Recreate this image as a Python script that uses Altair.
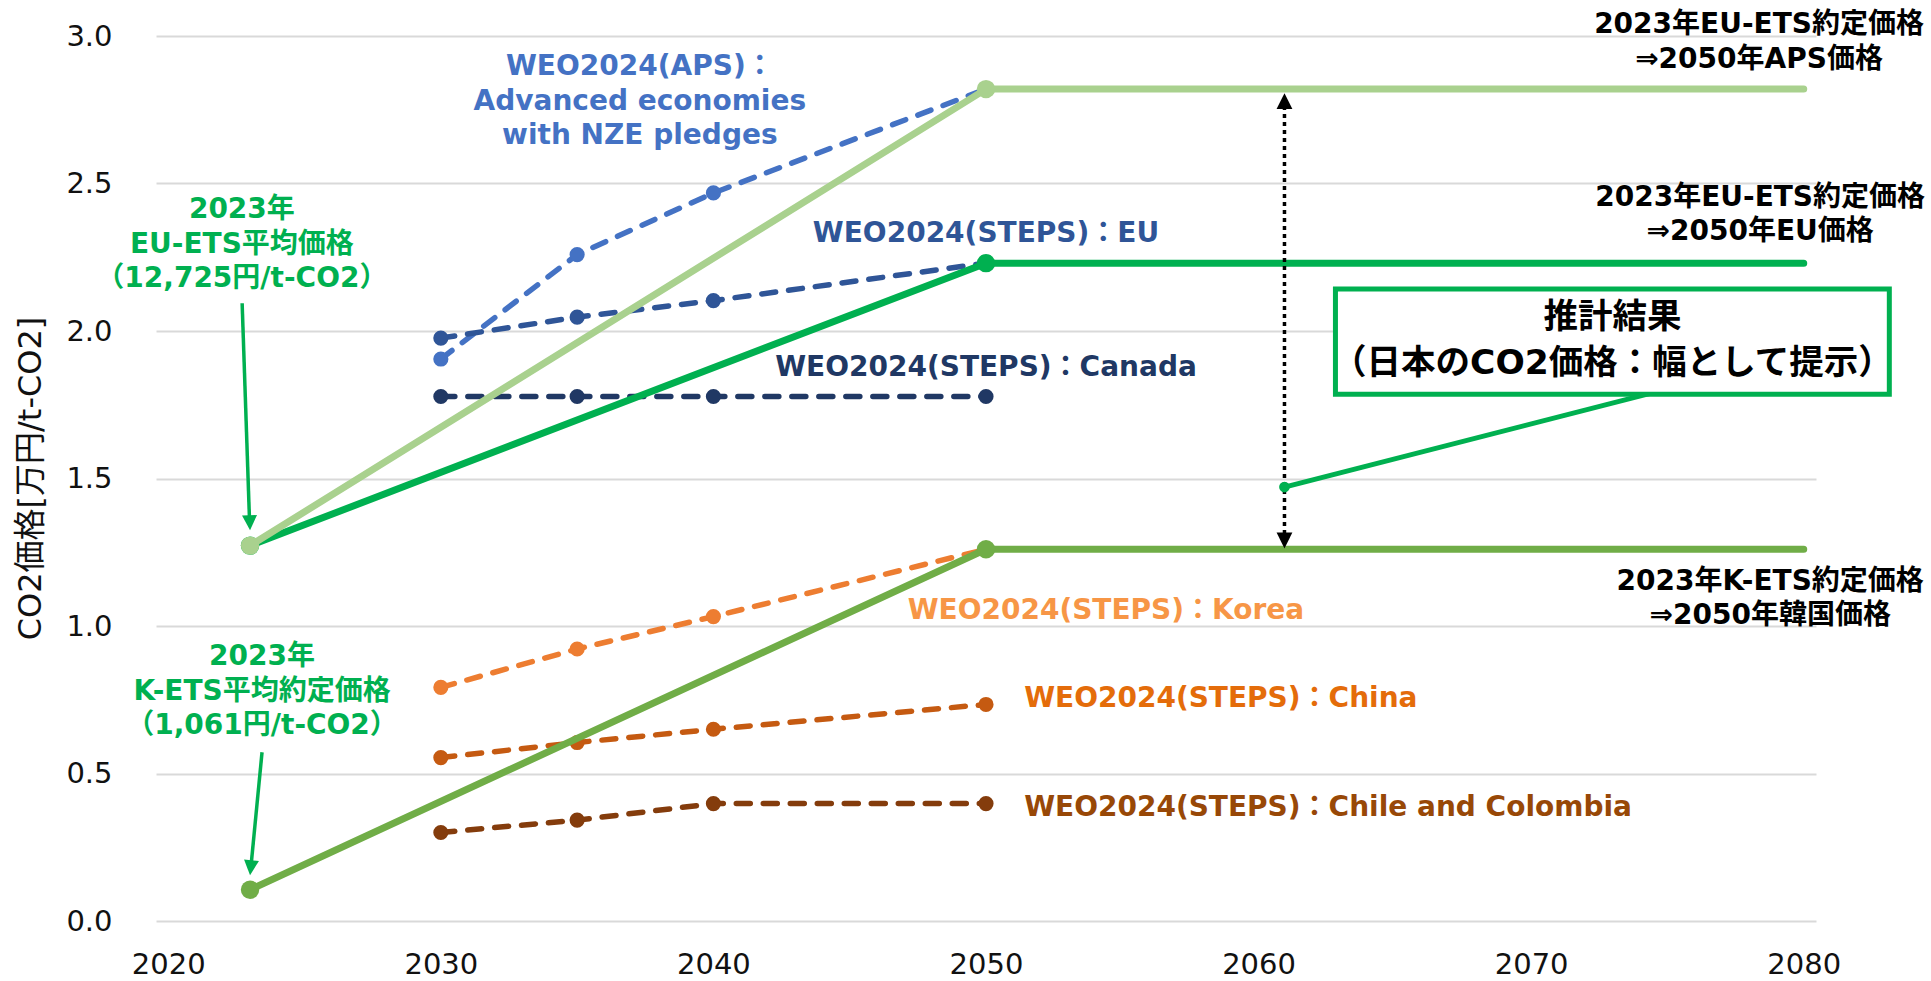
import altair as alt
import pandas as pd

FONT = "DejaVu Sans, Noto Sans CJK JP"

# ---- WEO2024 projections (万円/t-CO2) ----
weo_years = [2030, 2035, 2040, 2050]
weo_aps_adv = [1.905, 2.259, 2.468, 2.82]
weo_steps_eu = [1.976, 2.047, 2.103, 2.23]
weo_steps_canada = [1.778, 1.778, 1.778, 1.778]
weo_steps_korea = [0.792, 0.922, 1.032, 1.26]
weo_steps_china = [0.554, 0.605, 0.650, 0.734]
weo_steps_chile_col = [0.300, 0.342, 0.398, 0.398]

weo_names = ["APS", "EU", "Canada", "Korea", "China", "Chile"]
weo_values = [weo_aps_adv, weo_steps_eu, weo_steps_canada,
              weo_steps_korea, weo_steps_china, weo_steps_chile_col]
weo_colors = ["#4472C4", "#2F5597", "#203864", "#ED7D31", "#C55A11", "#843C0C"]

# ---- estimated Japanese CO2 price paths ----
scen_years = [2023, 2050, 2080]
scen_kets = [0.1061, 1.26, 1.26]
scen_eu = [1.2725, 2.23, 2.23]
scen_aps = [1.2725, 2.82, 2.82]
scen_names = ["K-ETS", "EU", "APS"]
scen_values = [scen_kets, scen_eu, scen_aps]
scen_colors = ["#70AD47", "#00B050", "#A9D18E"]

x_ticks = [2020, 2030, 2040, 2050, 2060, 2070, 2080]
y_ticks = [0.0, 0.5, 1.0, 1.5, 2.0, 2.5, 3.0]

# ---- annotation texts (data coordinates of the first line) ----
ann_center = pd.DataFrame({
    "text": ["WEO2024(APS)：\nAdvanced economies\nwith NZE pledges",
             "WEO2024(STEPS)：EU",
             "WEO2024(STEPS)：Canada",
             "WEO2024(STEPS)：Korea",
             "2023年\nEU-ETS平均価格\n（12,725円/t-CO2）",
             "2023年\nK-ETS平均約定価格\n（1,061円/t-CO2）",
             "2023年EU-ETS約定価格\n⇒2050年APS価格",
             "2023年EU-ETS約定価格\n⇒2050年EU価格",
             "2023年K-ETS約定価格\n⇒2050年韓国価格"],
    "x": [2037.3, 2050.0, 2050.0, 2054.4, 2022.7, 2023.44, 2078.36, 2078.4, 2078.77],
    "y": [2.894, 2.330, 1.874, 1.050, 2.410, 0.894, 3.037, 2.451, 1.150],
    "c": ["#4472C4", "#2F5597", "#203864", "#F79646", "#00B050", "#00B050",
          "#000000", "#000000", "#000000"],
})
ann_left = pd.DataFrame({
    "text": ["WEO2024(STEPS)：China", "WEO2024(STEPS)：Chile and Colombia"],
    "x": [2051.4, 2051.4],
    "y": [0.752, 0.382],
    "c": ["#E46C0A", "#984807"],
})
box_text = pd.DataFrame({
    "text": ["推計結果\n（日本のCO2価格：幅として提示）"],
    "x": [2072.98], "y": [2.044],
})
box_rect = pd.DataFrame({"x": [2062.82], "x2": [2083.14], "y": [2.142], "y2": [1.786]})

green_arrows = pd.DataFrame({
    "x": [2022.71, 2023.44, 2074.73],
    "y": [2.094, 0.572, 1.797],
    "x2": [2022.98, 2023.05, 2060.95],
    "y2": [1.36, 0.20, 1.471],
    "w": [3.5, 3.5, 5],
})
dotted_arrow = pd.DataFrame({"x": [2060.95], "y": [2.79], "x2": [2060.95], "y2": [1.28]})
heads_green = pd.DataFrame({"x": [2023.0, 2023.0], "y": [1.3245, 0.1554], "a": [358, 5.6]})
heads_black = pd.DataFrame({"x": [2060.95, 2060.95], "y": [2.806, 1.263], "a": [180, 0]})
pointer_dot = pd.DataFrame({"x": [2060.95], "y": [1.471]})

# ---- encodings ----
x_enc = alt.X("x:Q",
              scale=alt.Scale(domain=[2019.55, 2080.45], nice=False, zero=False),
              axis=alt.Axis(values=x_ticks, format="d", grid=False, domain=False,
                            ticks=False, labelFont=FONT, labelFontSize=29,
                            labelColor="#111111", labelPadding=29, title=None))
y_enc = alt.Y("y:Q",
              scale=alt.Scale(domain=[0, 3], nice=False, zero=False),
              axis=alt.Axis(values=y_ticks, format=".1f", grid=True,
                            gridColor="#D9D9D9", gridWidth=2, domain=False,
                            ticks=False, labelFont=FONT, labelFontSize=29,
                            labelColor="#111111", labelPadding=44,
                            title="CO2価格[万円/t-CO2]", titleFont=FONT,
                            titleFontSize=32, titleFontWeight="normal",
                            titleColor="#111111", titleAngle=270,
                            titleAlign="center", titleBaseline="middle",
                            titleX=-126, titleY=442))

layers = []

# dashed WEO series
for name, vals, col in zip(weo_names, weo_values, weo_colors):
    df = pd.DataFrame({"x": weo_years, "y": vals})
    base = alt.Chart(df)
    layers.append(base.mark_line(color=col, strokeWidth=5.5, strokeDash=[14, 13],
                                 strokeCap="round").encode(x=x_enc, y=y_enc))
    layers.append(base.mark_circle(color=col, size=230, opacity=1).encode(x=x_enc, y=y_enc))

# scenario paths
for name, vals, col in zip(scen_names, scen_values, scen_colors):
    df = pd.DataFrame({"x": scen_years, "y": vals})
    base = alt.Chart(df)
    layers.append(base.mark_line(color=col, strokeWidth=7, strokeCap="round",
                                 strokeJoin="round").encode(x=x_enc, y=y_enc))
    layers.append(base.transform_filter(alt.datum.x < 2080)
                  .mark_circle(color=col, size=340, opacity=1).encode(x=x_enc, y=y_enc))

# arrows
layers.append(alt.Chart(green_arrows).mark_rule(color="#00B050", strokeCap="butt").encode(
    x=x_enc, y=y_enc, x2="x2:Q", y2="y2:Q",
    strokeWidth=alt.StrokeWidth("w:Q", scale=None)))
layers.append(alt.Chart(dotted_arrow).mark_rule(color="#000000", strokeWidth=3.5,
                                                strokeDash=[4, 4]).encode(
    x=x_enc, y=y_enc, x2="x2:Q", y2="y2:Q"))
HEAD = "M-1,-2L1,-2L0,0Z"
layers.append(alt.Chart(heads_green).mark_point(shape=HEAD, filled=True, size=225,
                                                color="#00B050", opacity=1, strokeWidth=0).encode(
    x=x_enc, y=y_enc, angle=alt.Angle("a:Q", scale=None)))
layers.append(alt.Chart(heads_black).mark_point(shape=HEAD, filled=True, size=250,
                                                color="#000000", opacity=1, strokeWidth=0).encode(
    x=x_enc, y=y_enc, angle=alt.Angle("a:Q", scale=None)))
layers.append(alt.Chart(pointer_dot).mark_circle(color="#00B050", size=115, opacity=1).encode(
    x=x_enc, y=y_enc))

# result box
layers.append(alt.Chart(box_rect).mark_rect(fill="#FFFFFF", stroke="#00B050",
                                            strokeWidth=5).encode(
    x=x_enc, y=y_enc, x2="x2:Q", y2="y2:Q"))
layers.append(alt.Chart(box_text).mark_text(font=FONT, fontSize=34.5, fontWeight="bold",
                                            lineBreak="\n", lineHeight=46, align="center",
                                            baseline="middle", color="#000000").encode(
    x=x_enc, y=y_enc, text="text:N"))

# annotation texts
layers.append(alt.Chart(ann_center).mark_text(font=FONT, fontSize=28, fontWeight="bold",
                                              lineBreak="\n", lineHeight=34.5,
                                              align="center", baseline="middle").encode(
    x=x_enc, y=y_enc, text="text:N", color=alt.Color("c:N", scale=None)))
layers.append(alt.Chart(ann_left).mark_text(font=FONT, fontSize=28, fontWeight="bold",
                                            align="left", baseline="middle").encode(
    x=x_enc, y=y_enc, text="text:N", color=alt.Color("c:N", scale=None)))

chart = alt.layer(*layers).properties(
    width=1660, height=885,
    autosize=alt.AutoSizeParams(type="none"),
    padding={"left": 156, "top": 36, "right": 115, "bottom": 60},
    background="#FFFFFF",
).configure_view(stroke=None)

chart.save("out.html", embed_options={"renderer": "svg", "actions": False})
